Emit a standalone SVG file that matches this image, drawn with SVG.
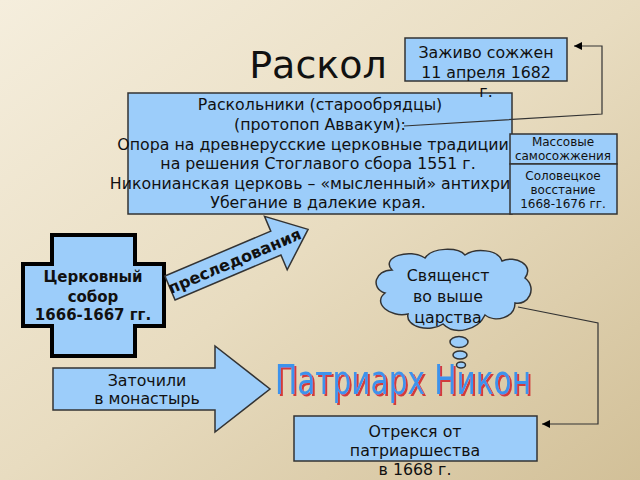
<svg xmlns="http://www.w3.org/2000/svg" width="640" height="480" viewBox="0 0 640 480">
<defs>
<linearGradient id="bg" x1="0" y1="0" x2="1" y2="1">
<stop offset="0" stop-color="#f5eedd"/>
<stop offset="0.5" stop-color="#e8dcc0"/>
<stop offset="1" stop-color="#d2c098"/>
</linearGradient>
<filter id="sh" x="-5%" y="-20%" width="110%" height="140%">
<feFlood flood-color="#d23a3a" result="c"/>
<feComposite in="c" in2="SourceAlpha" operator="in" result="s"/>
<feOffset in="s" dx="2" dy="2" result="o"/>
<feMerge><feMergeNode in="o"/><feMergeNode in="SourceGraphic"/></feMerge>
</filter>
<marker id="ah" viewBox="0 0 10 10" refX="10" refY="5" markerWidth="8" markerHeight="8" markerUnits="userSpaceOnUse" orient="auto">
<path d="M0,0 L10,5 L0,10 z" fill="#000"/>
</marker>
<style>
.box{fill:#9ccdfa;stroke:#333;stroke-width:1.5}
.t{font-family:"DejaVu Sans","Noto Sans",sans-serif;fill:#111;text-anchor:middle}
.s14{font-size:15.8px}
.s11{font-size:12px}
.b{font-weight:bold;font-size:15px}
.con{fill:none;stroke:#333;stroke-width:1.2}
</style>
</defs>
<rect width="640" height="480" fill="url(#bg)"/>
<text class="t" x="318" y="78" style="font-size:38px">Раскол</text>

<g id="main">
<rect class="box" x="128" y="93" width="384" height="121"/>
<text class="t s14" x="320" y="110">Раскольники (старообрядцы)</text>
<text class="t s14" x="320" y="130">(протопоп Аввакум):</text>
<text class="t s14" x="313" y="150">Опора на древнерусские церковные традиции</text>
<text class="t s14" x="318" y="169">на решения Стоглавого сбора 1551 г.</text>
<text class="t s14" x="310" y="189">Никонианская церковь – «мысленный» антихри</text>
<text class="t s14" x="318" y="208">Убегание в далекие края.</text>
</g>

<g id="burned">
<rect class="box" x="405" y="38" width="162" height="43"/>
<text class="t s14" x="486" y="58">Заживо сожжен</text>
<text class="t s14" x="486" y="78">11 апреля 1682</text>
<text class="t s14" x="486" y="97">г.</text>
</g>

<g id="mass">
<rect class="box" x="510" y="134" width="107" height="30"/>
<text class="t s11" x="563" y="146">Массовые</text>
<text class="t s11" x="563" y="160">самосожжения</text>
</g>
<g id="solov">
<rect class="box" x="510" y="164" width="107" height="50"/>
<text class="t s11" x="563" y="180">Соловецкое</text>
<text class="t s11" x="563" y="194">восстание</text>
<text class="t s11" x="563" y="208">1668-1676 гг.</text>
</g>

<g id="sobor">
<path d="M52,235 H135 V264 H164 V326 H135 V356 H52 V326 H23 V264 H52 Z" fill="#9ccdfa" stroke="#000" stroke-width="4"/>
<text class="t b" x="93" y="282">Церковный</text>
<text class="t b" x="93" y="302">собор</text>
<text class="t b" x="93" y="320">1666-1667 гг.</text>
</g>

<g id="persecution" transform="translate(170,288) rotate(-23)">
<path d="M0,-13 H115 V-29 L150,0 L115,29 V13 H0 Z" class="box"/>
<text class="t b" x="70" y="6" style="font-size:16px">преследования</text>
</g>

<g id="cloud">
<path d="M392,270 C380,257 410,248 425,258 C432,247 458,247 465,255 C475,248 498,249 502,261 C515,255 535,265 525,278 C538,288 528,306 515,303 C515,318 495,323 485,315 C478,330 455,336 443,324 C430,333 405,327 408,314 C390,318 372,303 385,293 C370,288 375,270 392,270 Z" class="box"/>
<ellipse cx="459" cy="342" rx="9" ry="5.5" class="box"/>
<ellipse cx="460" cy="355" rx="7" ry="4" class="box"/>
<ellipse cx="461" cy="365" rx="4.5" ry="3" class="box"/>
<text class="t s14" x="448" y="281">Священст</text>
<text class="t s14" x="448" y="302">во выше</text>
<text class="t s14" x="448" y="323">царства</text>
</g>

<g id="prison">
<path d="M53,368 H215 V346 L270,389 L215,432 V410 H53 Z" class="box"/>
<text class="t s14" x="147" y="386">Заточили</text>
<text class="t s14" x="147" y="404">в монастырь</text>
</g>

<g id="nikon">
<text x="403" y="394" textLength="256" lengthAdjust="spacingAndGlyphs" filter="url(#sh)" style="font-family:'DejaVu Sans Condensed','DejaVu Sans',sans-serif;font-size:40px;text-anchor:middle;fill:#3d93ec">Патриарх Никон</text>
</g>

<g id="resign">
<rect class="box" x="294" y="416" width="243" height="45"/>
<text class="t s14" x="415" y="437">Отрекся от</text>
<text class="t s14" x="415" y="456">патриаршества</text>
<text class="t s14" x="415" y="475">в 1668 г.</text>
</g>

<g id="connectors">
<path class="con" d="M404,126 L602,114 V46 H574" marker-end="url(#ah)"/>
<path class="con" d="M518,307 L598,323 V424 H542" marker-end="url(#ah)"/>
</g>
</svg>
